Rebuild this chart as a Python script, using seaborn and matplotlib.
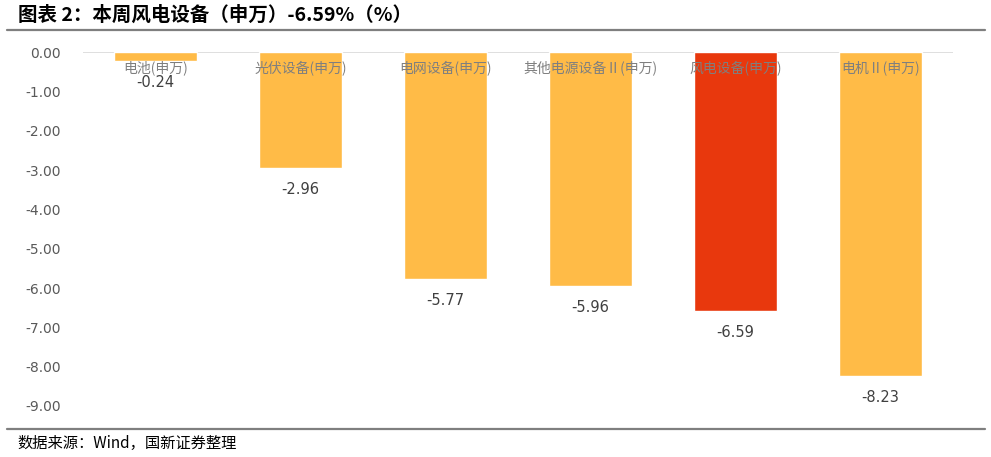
import matplotlib
matplotlib.use("Agg")
import matplotlib.pyplot as plt
import seaborn as sns
import pandas as pd

sns.set_theme(style="white")
plt.rcParams['font.family'] = ['Noto Sans CJK SC', 'DejaVu Sans']
plt.rcParams['axes.unicode_minus'] = False

# data
categories = ["电池(申万)", "光伏设备(申万)", "电网设备(申万)",
              "其他电源设备Ⅱ(申万)", "风电设备(申万)", "电机Ⅱ(申万)"]
values = [-0.24, -2.96, -5.77, -5.96, -6.59, -8.23]
bar_colors = ["#FFBB47", "#FFBB47", "#FFBB47", "#FFBB47", "#E8380D", "#FFBB47"]
yticks = [0, -1, -2, -3, -4, -5, -6, -7, -8, -9]

df = pd.DataFrame({"cat": categories, "val": values})

fig = plt.figure(figsize=(9.91, 4.57), dpi=100)
ax = fig.add_axes([0.0838, 0.1116, 0.8779, 0.7746])

sns.barplot(data=df, x="cat", y="val", hue="cat", palette=bar_colors,
            legend=False, width=0.57, ax=ax, saturation=1)

ax.set_ylim(-9, 0)
ax.set_yticks(yticks)
ax.set_yticklabels([f"{t:.2f}" for t in yticks], color="#595959", fontsize=10,
                   family="DejaVu Sans")
ax.tick_params(axis="y", length=0, pad=16)
ax.set_xticks([])
ax.set_xlabel("")
ax.set_ylabel("")
for s in ax.spines.values():
    s.set_visible(False)
ax.axhline(0, color="#D9D9D9", lw=1.2, zorder=0.5)

# category labels under the zero line, value labels under bars
for i, (c, v) in enumerate(zip(categories, values)):
    ax.annotate(c, (i, 0), xytext=(0, -11.5), textcoords="offset points",
                ha="center", va="center", fontsize=10, color="#7F7F7F")
    ax.annotate(f"{v:.2f}", (i, v), xytext=(0, -15.5), textcoords="offset points",
                ha="center", va="center", fontsize=10.5, color="#404040",
                family="DejaVu Sans")

# title, rules, source
fig.text(0.018, 0.966, "图表 2：本周风电设备（申万）-6.59%（%）", fontsize=14,
         fontweight="bold", style="italic", color="#000000", va="center")
fig.add_artist(plt.Line2D([0.007, 0.994], [0.934, 0.934], color="#7F7F7F", lw=1.6))
fig.add_artist(plt.Line2D([0.007, 0.994], [0.061, 0.061], color="#7F7F7F", lw=1.6))
fig.text(0.018, 0.030, "数据来源：Wind，国新证券整理", fontsize=11,
         color="#000000", va="center")

fig.savefig("out.png", dpi=100)
